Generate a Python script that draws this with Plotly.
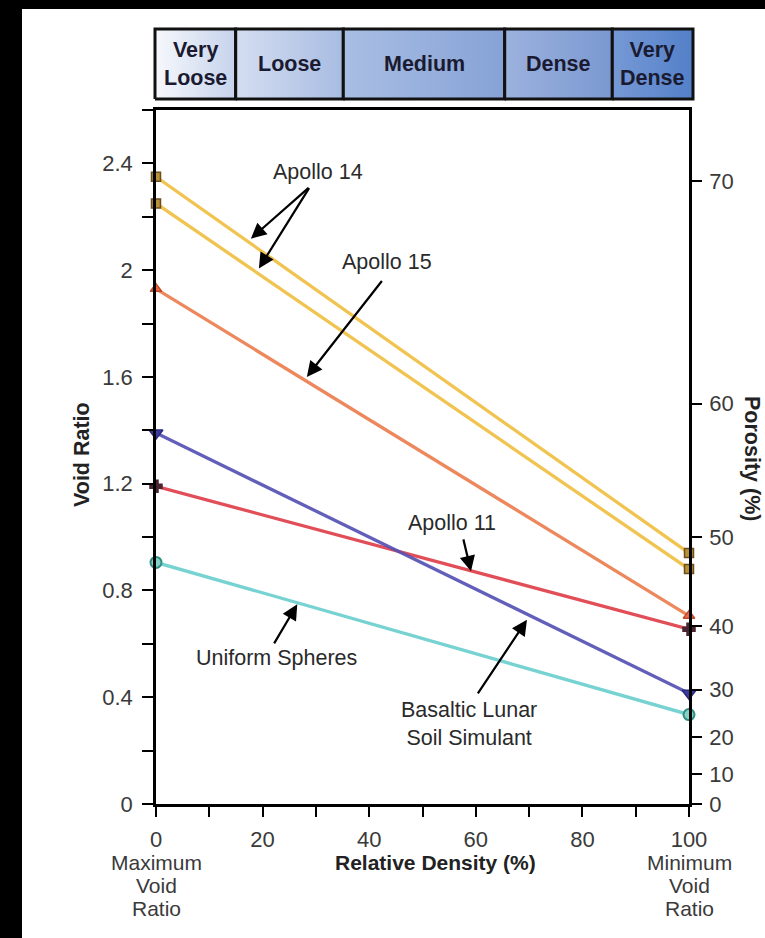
import plotly.graph_objects as go

# ---------------- data ----------------
relative_density = [0, 100]
series_names = ["Apollo 14 (upper)", "Apollo 14 (lower)", "Apollo 15", "Apollo 11",
                "Basaltic Lunar Soil Simulant", "Uniform Spheres"]
void_ratio_max = [2.35, 2.25, 1.93, 1.19, 1.39, 0.905]
void_ratio_min = [0.94, 0.88, 0.705, 0.655, 0.415, 0.335]

density_classes = ["Very<br>Loose", "Loose", "Medium", "Dense", "Very<br>Dense"]
class_bounds = [0, 15, 35, 65, 85, 100]

x_tick_values = [0, 20, 40, 60, 80, 100]
x_tick_labels = ["0", "20", "40", "60", "80", "100"]
x_end_labels = ["Maximum", "Void", "Ratio"], ["Minimum", "Void", "Ratio"]
porosity_ticks = [0, 10, 20, 30, 40, 50, 60, 70]

# ---------------- styles ----------------
line_colors = ["#F0C043", "#F0C043", "#EC7E50", "#E0404A", "#5552B5", "#6CCFCF"]
marker_symbols = ["square", "square", "triangle-up", "cross", "triangle-down", "circle"]
marker_fill = ["#B8913A", "#B8913A", "#F06A48", "#4A2430", "#3B3BA0", "#86D2C8"]
marker_edge = ["#6B4E1A", "#6B4E1A", "#C04A2A", "#4A2430", "#2A2A80", "#2F8F80"]
marker_size = [9, 9, 10, 10, 12, 11]
class_gradients = [
    ["#F6F8FC", "#C6D3EC"],
    ["#D4DEF1", "#A8BCE2"],
    ["#A9BEE4", "#86A2D6"],
    ["#9CB2DE", "#7A98D0"],
    ["#7799D6", "#5380C8"],
]

FONT = "Liberation Sans, Arial, sans-serif"
W, H = 765, 938
L, R, T, B = 150, 66, 20, 134
PW = W - L - R
PH = H - T - B


def px(xp):
    return (xp - L) / PW


def py(yp):
    return (H - B - yp) / PH


fig = go.Figure()

# main lines and markers
for i, name in enumerate(series_names):
    fig.add_trace(go.Scatter(
        x=relative_density, y=[void_ratio_max[i], void_ratio_min[i]],
        mode="lines", line=dict(color=line_colors[i], width=3.3),
        opacity=0.92, name=name, showlegend=False, hoverinfo="skip"))
for i, name in enumerate(series_names):
    fig.add_trace(go.Scatter(
        x=relative_density, y=[void_ratio_max[i], void_ratio_min[i]],
        mode="markers",
        marker=dict(symbol=marker_symbols[i], size=marker_size[i], color=marker_fill[i],
                    line=dict(color=marker_edge[i], width=1.5 if marker_symbols[i] != "circle" else 2)),
        name=name, showlegend=False, cliponaxis=False))

# density class band (separate axes)
for j, label in enumerate(density_classes):
    a, b = class_bounds[j], class_bounds[j + 1]
    fig.add_trace(go.Scatter(
        x=[a, b, b, a, a], y=[0, 0, 1, 1, 0], xaxis="x2", yaxis="y2",
        mode="lines", fill="toself",
        fillgradient=dict(type="horizontal",
                          colorscale=[[0, class_gradients[j][0]], [1, class_gradients[j][1]]]),
        line=dict(color="#111111", width=3), showlegend=False, hoverinfo="skip"))
    fig.add_annotation(x=(a + b) / 2, y=0.5, xref="x2", yref="y2", text=f"<b>{label}</b>",
                       showarrow=False, font=dict(family=FONT, size=21.5, color="#1A1A30"))

axis_font = dict(family=FONT, size=22, color="#3A3A3A")

fig.update_layout(
    width=W, height=H,
    margin=dict(l=L, r=R, t=T, b=B),
    paper_bgcolor="white", plot_bgcolor="white",
    showlegend=False,
    xaxis=dict(domain=[px(156), px(689)], range=[0, 100], tickvals=x_tick_values,
               ticktext=x_tick_labels, ticks="outside", ticklen=10, tickwidth=2,
               tickcolor="black", showline=True, linecolor="black", linewidth=2.5,
               mirror=True, showgrid=False, zeroline=False, tickfont=axis_font,
               ticklabelstandoff=4,
               minor=dict(dtick=10, ticks="outside", ticklen=10, tickwidth=2, tickcolor="black")),
    yaxis=dict(domain=[0, py(110)], range=[0, 2.6], dtick=0.4, tick0=0, ticks="outside",
               ticklen=11, tickwidth=2, tickcolor="black", showline=True,
               linecolor="black", linewidth=2.5, mirror=True, showgrid=False,
               zeroline=False, tickfont=axis_font, tickformat="~g", ticklabelstandoff=5,
               minor=dict(dtick=0.2, ticks="outside", ticklen=11, tickwidth=2, tickcolor="black")),
    yaxis3=dict(overlaying="y", side="right", anchor="x", range=[0, 2.6],
                tickvals=[p / (100 - p) for p in porosity_ticks],
                ticktext=[str(p) for p in porosity_ticks], ticks="outside", ticklen=10,
                tickwidth=2, tickcolor="black", showline=True, linecolor="black",
                linewidth=2.5, showgrid=False, zeroline=False, tickfont=axis_font,
                ticklabelstandoff=3),
    xaxis2=dict(domain=[px(152), px(696)], range=[-0.5576, 100.5576], visible=False,
                fixedrange=True, anchor="y2"),
    yaxis2=dict(domain=[py(102), py(26)], range=[-0.042857, 1.042857], visible=False,
                fixedrange=True, anchor="x2"),
)

# dummy trace on yaxis3 so that it is drawn
fig.add_trace(go.Scatter(x=[None], y=[None], yaxis="y3", showlegend=False, hoverinfo="skip"))

# extra lines under the end ticks
end_font = dict(family=FONT, size=21, color="#3A3A3A")
for xv, words in ((x_tick_values[0], x_end_labels[0]), (x_tick_values[-1], x_end_labels[1])):
    for k, w in enumerate(words):
        fig.add_annotation(x=xv, y=py(862 + 23 * k), xref="x", yref="paper", text=w,
                           showarrow=False, font=end_font, xanchor="center", yanchor="middle")

# axis titles
title_font = dict(family=FONT, size=21.5, color="#222")
fig.add_annotation(x=px(82), y=py(455), xref="paper", yref="paper", text="<b>Void Ratio</b>",
                   textangle=-90, showarrow=False, font=title_font,
                   xanchor="center", yanchor="middle")
fig.add_annotation(x=px(752), y=py(458), xref="paper", yref="paper", text="<b>Porosity (%)</b>",
                   textangle=90, showarrow=False, font=title_font,
                   xanchor="center", yanchor="middle")
fig.add_annotation(x=px(435), y=py(862), xref="paper", yref="paper",
                   text="<b>Relative Density (%)</b>", showarrow=False,
                   font=dict(family=FONT, size=21, color="#222"),
                   xanchor="center", yanchor="middle")

# labels
lab_font = dict(family=FONT, size=21.5, color="#2A2A2A")
labels = [
    ("Apollo 14", 30.4, 2.366),
    ("Apollo 15", 43.3, 2.032),
    ("Apollo 11", 55.5, 1.054),
    ("Uniform Spheres", 22.7, 0.547),
    ("Basaltic Lunar<br>Soil Simulant", 58.7, 0.30),
]
for text, lx, ly in labels:
    fig.add_annotation(x=lx, y=ly, xref="x", yref="y", text=text, showarrow=False, font=lab_font)

# arrows (tail -> tip)
arrows = [
    ((28.9, 2.313), (17.8, 2.118)),
    ((28.9, 2.313), (19.3, 2.006)),
    ((42.6, 1.965), (28.3, 1.600)),
    ((57.6, 0.997), (59.1, 0.872)),
    ((60.2, 0.409), (69.6, 0.690)),
    ((22.0, 0.596), (26.5, 0.748)),
]
for (tx, ty), (hx, hy) in arrows:
    fig.add_annotation(x=hx, y=hy, ax=tx, ay=ty, xref="x", yref="y", axref="x", ayref="y",
                       showarrow=True, arrowhead=2, arrowsize=1.4, arrowwidth=2.2,
                       arrowcolor="black", standoff=0, text="")

# black borders of the photo
fig.add_shape(type="rect", xref="paper", yref="paper", x0=px(-5), x1=px(22), y0=py(945), y1=py(-5),
              fillcolor="black", line_width=0, layer="above")
fig.add_shape(type="rect", xref="paper", yref="paper", x0=px(-5), x1=px(770), y0=py(9), y1=py(-5),
              fillcolor="black", line_width=0, layer="above")

fig.write_html("out.html", config={"displayModeBar": False},
               post_script="document.body.style.margin='0';")
